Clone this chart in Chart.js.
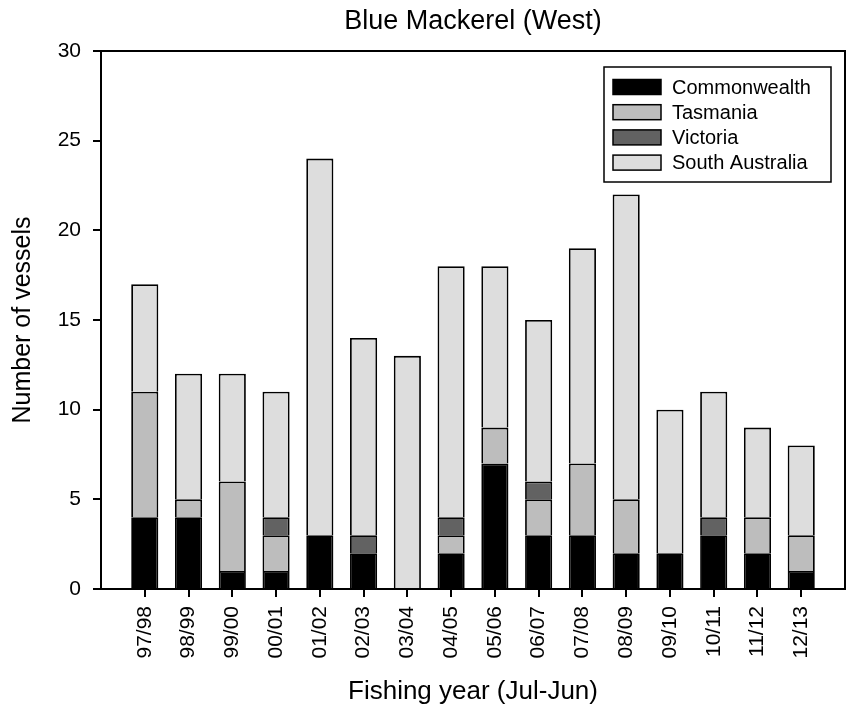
<!DOCTYPE html>
<html>
<head>
<meta charset="utf-8">
<script src="https://cdn.jsdelivr.net/npm/chart.js@4/dist/chart.umd.min.js"></script>
<style>
  html, body { margin: 0; padding: 0; background: #ffffff; }
  #wrap { width: 849px; height: 709px; }
</style>
</head>
<body>
<div id="wrap"><canvas id="c" width="849" height="709"></canvas></div>
<script>
const chartTitle = 'Blue Mackerel (West)';
const xTitle = 'Fishing year (Jul-Jun)';
const yTitle = 'Number of vessels';
const categories = ['97/98','98/99','99/00','00/01','01/02','02/03','03/04','04/05','05/06','06/07','07/08','08/09','09/10','10/11','11/12','12/13'];
const commonwealth   = [4, 4, 1, 1, 3, 2, 0, 2, 7, 3, 3, 2, 2, 3, 2, 1];
const tasmania       = [7, 1, 5, 2, 0, 0, 0, 1, 2, 2, 4, 3, 0, 0, 2, 2];
const victoria       = [0, 0, 0, 1, 0, 1, 0, 1, 0, 1, 0, 0, 0, 1, 0, 0];
const southAustralia = [6, 7, 6, 7, 21, 11, 13, 14, 9, 9, 12, 17, 8, 7, 5, 5];
const yTicks = [0, 5, 10, 15, 20, 25, 30];

const FONT = 'Arial, "Liberation Sans", Helvetica, sans-serif';

function toPoints(arr) { return arr.map((v, i) => ({ x: i, y: v })); }

function ds(label, data, color) {
  return {
    label: label,
    data: toPoints(data),
    backgroundColor: color,
    borderColor: '#000000',
    borderWidth: 1.8,
    categoryPercentage: 1.0,
    barPercentage: 0.62,
    stack: 'all'
  };
}

const framePlugin = {
  id: 'frameAndText',
  afterDraw(chart) {
    const ctx = chart.ctx;
    const a = chart.chartArea;
    ctx.save();
    ctx.strokeStyle = '#000000';
    ctx.lineWidth = 2;
    ctx.strokeRect(a.left, a.top, a.right - a.left, a.bottom - a.top);

    // main title
    ctx.fillStyle = '#000000';
    ctx.font = '27px ' + FONT;
    ctx.textAlign = 'center';
    ctx.textBaseline = 'alphabetic';
    ctx.fillText(chartTitle, (a.left + a.right) / 2, 29);

    // legend
    const lx = 604, ly = 67, lw = 227, lh = 115;
    ctx.fillStyle = '#ffffff';
    ctx.fillRect(lx, ly, lw, lh);
    ctx.lineWidth = 1.5;
    ctx.strokeStyle = '#000000';
    ctx.strokeRect(lx, ly, lw, lh);
    ctx.font = '20px ' + FONT;
    ctx.textAlign = 'left';
    ctx.textBaseline = 'middle';
    chart.data.datasets.forEach((d, i) => {
      const cy = 87 + i * 25.2;
      ctx.fillStyle = d.backgroundColor;
      ctx.fillRect(613, cy - 7.5, 48, 15);
      ctx.strokeStyle = '#000000';
      ctx.lineWidth = 1.5;
      ctx.strokeRect(613, cy - 7.5, 48, 15);
      ctx.fillStyle = '#000000';
      ctx.fillText(d.label, 672, cy + 1);
    });
    ctx.restore();
  }
};

new Chart(document.getElementById('c'), {
  type: 'bar',
  data: {
    datasets: [
      ds('Commonwealth', commonwealth, '#000000'),
      ds('Tasmania', tasmania, '#bdbdbd'),
      ds('Victoria', victoria, '#626262'),
      ds('South Australia', southAustralia, '#dddddd')
    ]
  },
  options: {
    responsive: false,
    animation: false,
    layout: { padding: { top: 51, right: 4, left: 0, bottom: 0 } },
    plugins: {
      legend: { display: false },
      title: { display: false },
      tooltip: { enabled: false }
    },
    scales: {
      x: {
        type: 'linear',
        stacked: true,
        offset: false,
        min: -1,
        max: 16,
        afterBuildTicks(scale) { scale.ticks = categories.map((c, i) => ({ value: i })); },
        afterFit(scale) { scale.height = 120; },
        grid: { offset: false, drawOnChartArea: false, drawTicks: true, tickLength: 8, color: '#000000', lineWidth: 2 },
        border: { display: true, color: '#000000', width: 2 },
        ticks: {
          autoSkip: false,
          minRotation: 90,
          maxRotation: 90,
          padding: 9,
          color: '#000000',
          font: { family: FONT, size: 21 },
          callback(v) { return categories[v]; }
        },
        title: {
          display: true,
          text: xTitle,
          color: '#000000',
          font: { family: FONT, size: 26, lineHeight: 1.2 },
          padding: { top: 0, bottom: 2 }
        }
      },
      y: {
        stacked: true,
        min: 0,
        max: 30,
        afterBuildTicks(scale) { scale.ticks = yTicks.map(v => ({ value: v })); },
        afterFit(scale) { scale.width = 101; },
        grid: { drawOnChartArea: false, drawTicks: true, tickLength: 8, color: '#000000', lineWidth: 2 },
        border: { display: true, color: '#000000', width: 2 },
        ticks: {
          padding: 12,
          color: '#000000',
          font: { family: FONT, size: 21 }
        },
        title: {
          display: true,
          text: yTitle,
          color: '#000000',
          font: { family: FONT, size: 25, lineHeight: 1.2 },
          padding: { top: 8, bottom: 0 }
        }
      }
    }
  },
  plugins: [framePlugin]
});
</script>
</body>
</html>
